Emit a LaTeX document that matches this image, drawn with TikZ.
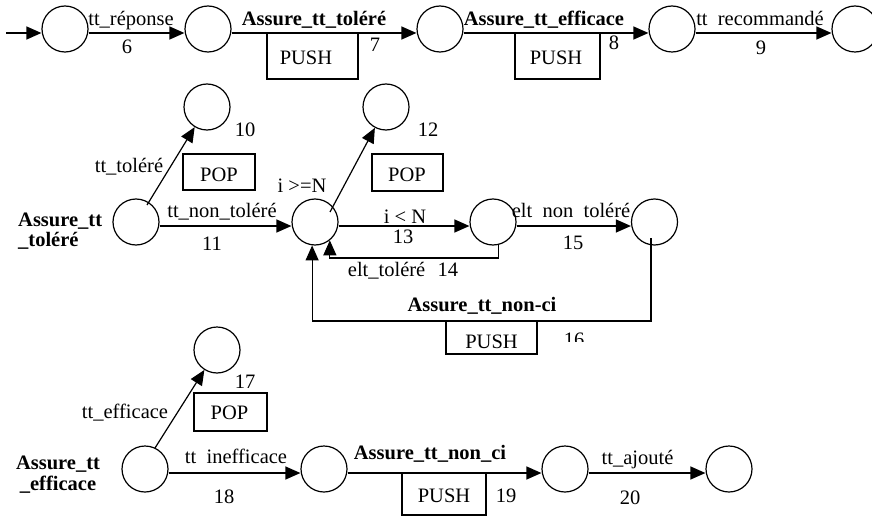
\documentclass[tikz,border=0pt]{standalone}
\usepackage{fontspec}
\setmainfont{Liberation Serif}
\usetikzlibrary{arrows.meta}
\begin{document}
\begin{tikzpicture}[x=1pt,y=-1pt,
  every node/.style={font=\fontsize{20.5}{24}\selectfont},
  st/.style={circle,draw,line width=1.2pt,minimum size=46pt,inner sep=0pt},
  lbl/.style={inner sep=0pt,text height=14pt,text depth=4.5pt},
  blbl/.style={lbl,font=\fontsize{20.5}{24}\selectfont\bfseries},
  opbox/.style={draw,line width=1.2pt,inner sep=0pt},
  arr/.style={line width=1.2pt,-{Triangle[length=15pt,width=13pt]}},
  ln/.style={line width=1.2pt}
]
\useasboundingbox (0,0) rectangle (872,516);

% ---------- row 1 ----------
\coordinate (start) at (6,33);
\node[st] (c1) at (65,29) {};
\node[st] (c2) at (208,29) {};
\node[st] (c3) at (440,29) {};
\node[st] (c4) at (672,29) {};
\node[st] (c5) at (855,29) {};
\draw[arr] (start) -- ([yshift=-4pt]c1.west);
\draw[arr] ([yshift=-4pt]c1.east) -- ([yshift=-4pt]c2.west);
\draw[arr] ([yshift=-4pt]c2.east) -- ([yshift=-4pt]c3.west);
\draw[arr] ([yshift=-4pt]c3.east) -- ([yshift=-4pt]c4.west);
\draw[arr] ([yshift=-4pt]c4.east) -- ([yshift=-4pt]c5.west);
\node[lbl] (l1a) at (131,21) {tt\_réponse};
\node[lbl] (l1b) at (127,48.5) {6};
\node[blbl] (l2a) at (314,21) {Assure\_tt\_toléré};
\node[opbox,minimum width=91pt,minimum height=46pt] (b1) at (312.5,56) {};
\node[lbl] (b1t) at (306,60) {PUSH};
\node[lbl] (l2b) at (375,46.5) {7};
\node[blbl] (l3a) at (544,21) {Assure\_tt\_efficace};
\node[opbox,minimum width=85pt,minimum height=46pt] (b2) at (557.5,56) {};
\node[lbl] (b2t) at (556,60) {PUSH};
\node[lbl] (l3b) at (614,44.5) {8};
\node[lbl] (l4a) at (760,21) {tt\hspace{0.5em}recommandé};
\node[lbl] (l4b) at (761,49.5) {9};

% ---------- row 2 ----------
\node[st] (ca) at (136,222) {};
\node[st] (c10) at (207,107) {};
\node[st] (ci) at (315,222) {};
\node[st] (c12) at (386,107) {};
\node[st] (cm) at (493,222) {};
\node[st] (cr) at (654.5,222) {};
\node[inner sep=0pt,anchor=west,align=left,font=\fontsize{20.5}{20}\selectfont\bfseries] (la) at (18,231) {Assure\_tt\\\_toléré};
\draw[arr] ([shift={(11,-17)}]ca.center) -- (c10);
\node[lbl] (l10) at (245,132) {10};
\node[opbox,minimum width=72pt,minimum height=36pt] (pop1) at (219,172) {};
\node[lbl] (pop1t) at (219,177) {POP};
\node[lbl] (ltol) at (129,168) {tt\_toléré};
\draw[arr] ([yshift=-4pt]ca.east) -- ([yshift=-4pt]ci.west);
\node[lbl] (l11a) at (222,213) {tt\_non\_toléré};
\node[lbl] (l11b) at (212,246) {11};
\node[lbl] (lge) at (302,188) {i >=N};
\draw[arr] ([shift={(15,-10)}]ci.center) -- (c12);
\node[lbl] (l12) at (428,132) {12};
\node[opbox,minimum width=71pt,minimum height=37pt] (pop2) at (407.5,172.5) {};
\node[lbl] (pop2t) at (407,177) {POP};
\draw[arr] ([yshift=-4pt]ci.east) -- ([yshift=-4pt]cm.west);
\node[lbl] (l13a) at (405,218.5) {i < N};
\node[lbl] (l13b) at (403,238.5) {13};
\draw[arr] ([yshift=-4pt]cm.east) -- ([yshift=-4pt]cr.west);
\node[lbl] (l15a) at (571,213) {elt\hspace{0.5em}non\hspace{0.5em}toléré};
\node[lbl] (l15b) at (573,245) {15};
\coordinate (k14) at (ci.-51.5 |- 0,258);
\draw[arr] (cm.-77) |- (k14) -- (ci.-51.5);
\node[lbl] (l14) at (403,272) {elt\_toléré\hspace{0.6em}14};
\coordinate (s16) at ([shift={(-3.5,16)}]cr.center);
\coordinate (k16) at (ci.-97 |- 0,321);
\draw[arr] (s16) |- (k16) -- (ci.-97);
\node[blbl] (l16a) at (482,307) {Assure\_tt\_non-ci};
\node[opbox,minimum width=91pt,minimum height=33pt] (b3) at (491.5,337.5) {};
\node[lbl] (b3t) at (491.5,344) {PUSH};
\begin{scope}
  \clip (550,320) rectangle (600,341);
  \node[lbl] (l16b) at (574,342) {16};
\end{scope}

% ---------- row 3 ----------
\node[st] (ce) at (145,469) {};
\node[st] (c17) at (217,350) {};
\node[st] (cn) at (324,469) {};
\node[st] (cj) at (565,469) {};
\node[st] (ck) at (729,469) {};
\node[inner sep=0pt,align=center,font=\fontsize{20.5}{21}\selectfont\bfseries] (le) at (58,475) {Assure\_tt\\\_efficace};
\draw[arr] ([shift={(10,-21)}]ce.center) -- (c17);
\node[lbl] (l17) at (245,383.5) {17};
\node[opbox,minimum width=73pt,minimum height=38pt] (pop3) at (230.5,412) {};
\node[lbl] (pop3t) at (229.5,415) {POP};
\node[lbl] (leff) at (125,414) {tt\_efficace};
\draw[arr] ([yshift=-4pt]ce.east) -- ([yshift=-4pt]cn.west);
\node[lbl] (l18a) at (236,459) {tt\hspace{0.5em}inefficace};
\node[lbl] (l18b) at (224,499) {18};
\draw[arr] ([yshift=-4pt]cn.east) -- ([yshift=-4pt]cj.west);
\node[blbl] (l19a) at (430,455) {Assure\_tt\_non\_ci};
\node[opbox,minimum width=84pt,minimum height=42pt] (b4) at (444,494) {};
\node[lbl] (b4t) at (444,498) {PUSH};
\node[lbl] (l19b) at (506,498) {19};
\draw[arr] ([yshift=-4pt]cj.east) -- ([yshift=-4pt]ck.west);
\node[lbl] (l20a) at (637.5,460) {tt\_ajouté};
\node[lbl] (l20b) at (630,500) {20};
\end{tikzpicture}
\end{document}
